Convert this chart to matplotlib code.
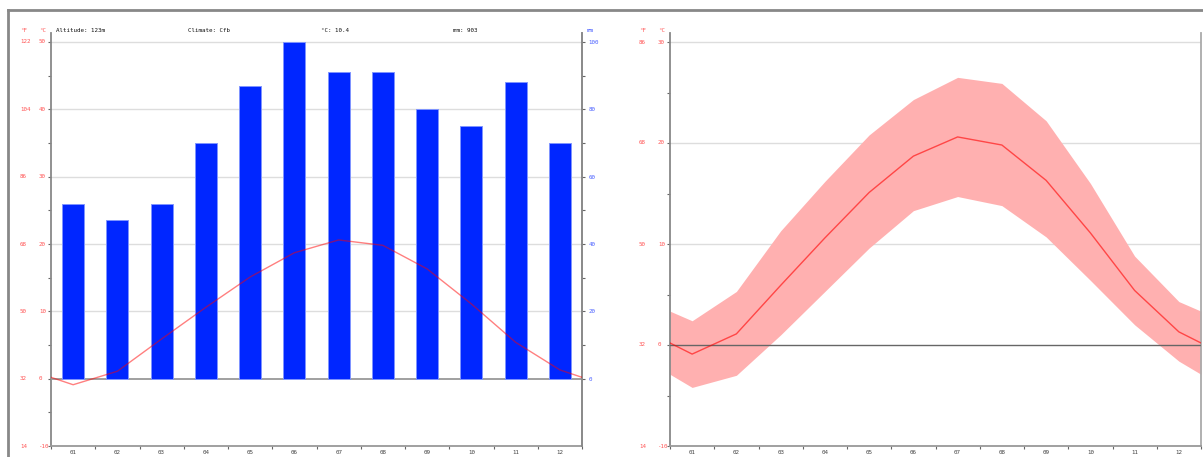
import matplotlib
matplotlib.use("Agg")
import matplotlib.pyplot as plt
import numpy as np
from matplotlib.transforms import blended_transform_factory
from matplotlib.lines import Line2D

months = ["01", "02", "03", "04", "05", "06", "07", "08", "09", "10", "11", "12"]
precip_mm = [52, 47, 52, 70, 87, 100, 91, 91, 80, 75, 88, 70]
temp_mean = [-0.9, 1.1, 5.9, 10.6, 15.1, 18.7, 20.6, 19.8, 16.3, 11.1, 5.4, 1.3]
temp_max = [2.4, 5.3, 11.3, 16.2, 20.8, 24.3, 26.5, 25.9, 22.2, 16.0, 8.8, 4.3]
temp_min = [-4.2, -3.0, 1.0, 5.3, 9.6, 13.3, 14.7, 13.8, 10.7, 6.4, 2.0, -1.6]
info_texts = ["Altitude: 123m", "Climate: Cfb", "°C: 10.4", "mm: 903"]
left_c_ticks = [50, 40, 30, 20, 10, 0, -10]
left_f_ticks = [122, 104, 86, 68, 50, 32, 14]
right_c_ticks = [30, 20, 10, 0, -10]
right_f_ticks = [86, 68, 50, 32, 14]
mm_ticks = [0, 20, 40, 60, 80, 100]

W, H = 1203, 457
fig = plt.figure(figsize=(W / 100, H / 100), dpi=100)

RED = "#ff5555"
BLUE = "#4a60ff"
FS = 4.2
MONO = "DejaVu Sans Mono"


def fx(px):
    return px / W


def fy(py):
    return 1 - py / H


def with_wrap(vals):
    v = np.asarray(vals, dtype=float)
    edge = (v[0] + v[-1]) / 2
    return np.concatenate([[edge], v, [edge]])


x_mid = np.arange(12) + 0.5
x_line = np.concatenate([[0], x_mid, [12]])

ax_top, ax_bot = 33, 446
AXW = 531


def setup_temp_axes(left_px, ymin, ymax_grid, px_per_deg, c_ticks, f_ticks):
    ymax = ymax_grid + (42 - ax_top) / px_per_deg
    ax = fig.add_axes([fx(left_px), fy(ax_bot), AXW / W, (ax_bot - ax_top) / H])
    ax.set_xlim(0, 12)
    ax.set_ylim(ymin, ymax)
    ax.spines["top"].set_visible(False)
    ax.spines["left"].set_color("#888888")
    ax.spines["left"].set_linewidth(1.3)
    ax.spines["bottom"].set_color("#999999")
    ax.spines["bottom"].set_linewidth(1.3)
    ax.spines["right"].set_color("#aaaaaa")
    ax.spines["right"].set_linewidth(1.3)
    ax.set_yticks(np.arange(ymin, ymax_grid + 0.1, 5))
    ax.tick_params(axis="y", which="both", direction="out", length=2.5, width=0.8,
                   color="#666666", labelleft=False)
    ax.set_xticks(np.arange(0, 13))
    ax.tick_params(axis="x", which="major", direction="out", length=2.5, width=0.8,
                   color="#666666", labelbottom=False)
    for g in c_ticks:
        if g > 0:
            ax.axhline(g, color="#dddddd", lw=1.0, zorder=0)
    trans = blended_transform_factory(ax.transAxes, ax.transData)
    for c, f in zip(c_ticks, f_ticks):
        ax.text(-12 / AXW, c, str(c), transform=trans, ha="left", va="center",
                fontsize=FS, color=RED, family=MONO)
        ax.text(-31 / AXW, c, str(f), transform=trans, ha="left",
                va="center", fontsize=FS, color=RED, family=MONO)
    xtrans = blended_transform_factory(ax.transData, ax.transAxes)
    for xm, m in zip(x_mid, months):
        ax.text(xm, -6 / (ax_bot - ax_top), m, transform=xtrans, ha="center", va="center",
                fontsize=FS, color="#444444", family=MONO)
    fig.text(fx(left_px - 31), fy(31), "°F", ha="left", va="center", fontsize=FS,
             color=RED, family=MONO)
    fig.text(fx(left_px - 12), fy(31), "°C", ha="left", va="center", fontsize=FS,
             color=RED, family=MONO)
    return ax


# ---------------- Left chart ----------------
ax1 = setup_temp_axes(51, -10, 50, 404 / 60, left_c_ticks, left_f_ticks)
ax1.axhline(0, color="#999999", lw=1.3, zorder=3)
ax1b = ax1.twinx()
lo, hi = ax1.get_ylim()
ax1b.set_ylim(lo * 2, hi * 2)
ax1b.set_xlim(0, 12)
for s in ["top", "left", "bottom"]:
    ax1b.spines[s].set_visible(False)
ax1b.spines["right"].set_color("#888888")
ax1b.spines["right"].set_linewidth(1.3)
ax1b.set_yticks(mm_ticks)
ax1b.set_yticks(np.arange(0, 101, 10), minor=True)
ax1b.tick_params(axis="y", which="both", direction="out", length=2.5, width=0.8,
                 color="#666666", labelsize=FS, labelcolor=BLUE, pad=2.2)
for lab in ax1b.get_yticklabels():
    lab.set_family(MONO)
ax1b.bar(x_mid, precip_mm, width=0.5, color="#0026ff", edgecolor="#8095ff",
         linewidth=0.7, zorder=2)
ax1b.plot(x_line, 2 * with_wrap(temp_mean), color="red", alpha=0.5, lw=1.0, zorder=4)
fig.text(fx(587), fy(31), "mm", ha="left", va="center", fontsize=FS, color=BLUE, family=MONO)

for xp, t in zip([56, 188, 321, 453], info_texts):
    fig.text(fx(xp), fy(31), t, ha="left", va="center", fontsize=FS, color="#111111",
             family=MONO)

# ---------------- Right chart ----------------
ax2 = setup_temp_axes(670, -10, 30, 404 / 40, right_c_ticks, right_f_ticks)
ax2.axhline(0, color="#666666", lw=1.0, zorder=3)
ax2.fill_between(x_line, with_wrap(temp_min), with_wrap(temp_max), color="#ffb0b0",
                 lw=0, zorder=1)
ax2.plot(x_line, with_wrap(temp_mean), color="red", alpha=0.6, lw=1.0, zorder=4)

# outer frame
fig.add_artist(Line2D([fx(8), fx(8)], [fy(10), 0], color="#888888", lw=2,
                      transform=fig.transFigure))
fig.add_artist(Line2D([fx(8), 1], [fy(10), fy(10)], color="#888888", lw=2,
                      transform=fig.transFigure))

fig.savefig("out.png", dpi=100)
